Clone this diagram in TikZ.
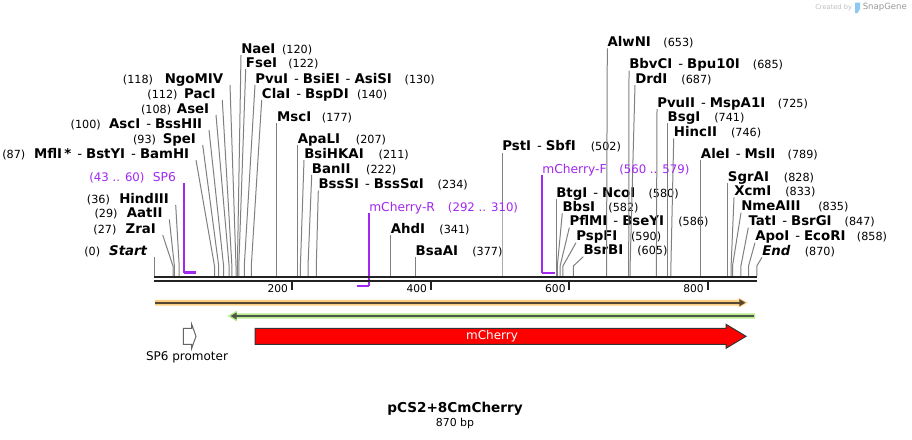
\documentclass[tikz,border=0pt]{standalone}
\usepackage{fontspec}
\setmainfont{DejaVu Sans}
\usetikzlibrary{arrows.meta}
\definecolor{primer}{RGB}{160,40,240}
\definecolor{siteln}{RGB}{128,128,128}
\definecolor{barblk}{RGB}{34,34,34}
\definecolor{orhalo}{RGB}{250,206,128}
\definecolor{orline}{RGB}{85,72,50}
\definecolor{grhalo}{RGB}{184,236,140}
\definecolor{grline}{RGB}{78,88,72}
\definecolor{outl}{RGB}{51,51,51}
\definecolor{logoblue}{RGB}{140,200,240}
\newdimen\px \px=0.75pt
\newcommand\nm[1]{\textbf{#1}}
\newcommand\ps[1]{{\fontsize{8.4}{10}\selectfont(#1)}}
\newcommand\g[1]{\hspace{#1\px}}
\newcommand\dsh{\hspace{6\px}-\hspace{4\px}}
\newcommand\rsite[5]{\coordinate (s#1) at (#2,276);\node[rlab] (#1) at (#3,#4) {#5};\draw[site] (s#1) -- ++(0,-10) -- (#1.south west);}
\newcommand\lsite[5]{\coordinate (s#1) at (#2,276);\node[llab] (#1) at (#3,#4) {#5};\draw[site] (s#1) -- ++(0,-10) -- ([xshift=4.9pt]#1.south east);}
\begin{document}
\begin{tikzpicture}[x=0.75pt,y=-0.75pt,
  lab/.style={inner sep=0pt, text depth=1.1pt, font=\fontsize{10}{12}\selectfont, text=black},
  rlab/.style={lab, anchor=south west},
  llab/.style={lab, anchor=south east, xshift=-4.9pt},
  site/.style={draw=siteln, line width=0.75pt},
  primv/.style={draw=primer, line width=1.2pt},
  primh/.style={draw=primer, line width=1.7pt},
  plab/.style={inner sep=0pt, text depth=1.1pt, font=\fontsize{8.8}{11}\selectfont, text=primer},
  ticklab/.style={inner sep=0pt, anchor=east, font=\fontsize{8}{10}\selectfont},
  featlab/.style={inner sep=0pt, font=\fontsize{9}{11}\selectfont}]
\fill[white] (0,0) rectangle (912,439);
\useasboundingbox (0,0) rectangle (912,439);

% watermark
\node[inner sep=0pt, anchor=west, text=black!25, font=\fontsize{5}{6}\selectfont] (wm1) at (815,7.5) {Created by};
\fill[logoblue] (855,2.5) -- (860,2.5) -- (860,9) -- (857.5,13) -- (855,13) -- cycle;
\node[inner sep=0pt, anchor=west, text=black!40, font=\fontsize{6.4}{8}\selectfont] (wm2) at (862.5,7.5) {SnapGene};

% left-side sites
\lsite{NgoMIV}{236.0}{230}{85}{\ps{118}\g{11.7}\nm{NgoMIV}}
\lsite{PacI}{231.9}{222.3}{100}{\ps{112}\g{6.7}\nm{PacI}}
\lsite{AseI}{229.1}{216}{115}{\ps{108}\g{5.7}\nm{AseI}}
\lsite{AscI}{223.6}{209}{130}{\ps{100}\g{8.3}\nm{AscI}\dsh\nm{BssHII}}
\lsite{SpeI}{218.7}{202.7}{145}{\ps{93}\g{6.7}\nm{SpeI}}
\lsite{MflI}{214.5}{196}{160}{\ps{87}\g{8.7}\nm{MflI\,*}\dsh\nm{BstYI}\dsh\nm{BamHI}}
\lsite{HindIII}{179.2}{175.7}{205}{\ps{36}\g{9.3}\nm{HindIII}}
\lsite{AatII}{174.4}{169.3}{219.3}{\ps{29}\g{9.3}\nm{AatII}}
\lsite{ZraI}{173.0}{162.7}{235}{\ps{27}\g{9.3}\nm{ZraI}}
\lsite{Start}{154.3}{154.3}{257.3}{\ps{0}\g{9}\textbf{\itshape Start}}

% right-side sites
\rsite{NaeI}{237.4}{241}{55}{\nm{NaeI}\g{6.7}\ps{120}}
\rsite{FseI}{238.8}{245.7}{69}{\nm{FseI}\g{11.3}\ps{122}}
\rsite{PvuI}{244.3}{255}{85}{\nm{PvuI}\dsh\nm{BsiEI}\dsh\nm{AsiSI}\g{12.7}\ps{130}}
\rsite{ClaI}{251.3}{261.7}{100}{\nm{ClaI}\dsh\nm{BspDI}\g{8.3}\ps{140}}
\rsite{MscI}{276.9}{276.9}{123.3}{\nm{MscI}\g{10.7}\ps{177}}
\rsite{ApaLI}{297.6}{297.6}{145}{\nm{ApaLI}\g{15.7}\ps{207}}
\rsite{BsiHKAI}{300.4}{304}{160}{\nm{BsiHKAI}\g{15}\ps{211}}
\rsite{BanII}{308.0}{311.7}{175}{\nm{BanII}\g{15.7}\ps{222}}
\rsite{BssSI}{316.3}{318.3}{190.7}{\nm{BssSI}\dsh\nm{BssSαI}\g{14}\ps{234}}
\rsite{AhdI}{390.5}{390.5}{235}{\nm{AhdI}\g{14.3}\ps{341}}
\rsite{BsaAI}{415.4}{415.4}{257.3}{\nm{BsaAI}\g{14.3}\ps{377}}
\rsite{PstI}{502.0}{502.0}{152.7}{\nm{PstI}\dsh\nm{SbfI}\g{15}\ps{502}}
\rsite{BtgI}{556.0}{556.0}{199}{\nm{BtgI}\dsh\nm{NcoI}\g{13.3}\ps{580}}
\rsite{BbsI}{557.3}{562.3}{213.3}{\nm{BbsI}\g{13.3}\ps{582}}
\rsite{PflMI}{560.1}{569.3}{227.7}{\nm{PflMI}\dsh\nm{BseYI}\g{14.3}\ps{586}}
\rsite{PspFI}{562.9}{576}{242.7}{\nm{PspFI}\g{13.7}\ps{590}}
\rsite{BsrBI}{573.3}{583.3}{256.7}{\nm{BsrBI}\g{14}\ps{605}}
\rsite{AlwNI}{606.5}{607.3}{48.3}{\nm{AlwNI}\g{12.5}\ps{653}}
\rsite{BbvCI}{628.7}{629}{70.7}{\nm{BbvCI}\dsh\nm{Bpu10I}\g{13}\ps{685}}
\rsite{DrdI}{630.1}{635}{85}{\nm{DrdI}\g{14}\ps{687}}
\rsite{PvuII}{656.4}{657}{109}{\nm{PvuII}\dsh\nm{MspA1I}\g{12.5}\ps{725}}
\rsite{BsgI}{667.4}{667.4}{123.3}{\nm{BsgI}\g{14}\ps{741}}
\rsite{HincII}{670.9}{673.7}{138.3}{\nm{HincII}\g{14}\ps{746}}
\rsite{AleI}{700.7}{700.7}{160}{\nm{AleI}\dsh\nm{MslI}\g{12.3}\ps{789}}
\rsite{SgrAI}{727.7}{727.7}{183.3}{\nm{SgrAI}\g{15}\ps{828}}
\rsite{XcmI}{731.1}{734}{197.3}{\nm{XcmI}\g{14}\ps{833}}
\rsite{NmeAIII}{732.5}{741}{212.7}{\nm{NmeAIII}\g{17.7}\ps{835}}
\rsite{TatI}{740.9}{748.3}{227.7}{\nm{TatI}\dsh\nm{BsrGI}\g{13}\ps{847}}
\rsite{ApoI}{748.5}{755}{242.7}{\nm{ApoI}\dsh\nm{EcoRI}\g{11.5}\ps{858}}
\rsite{End}{756.8}{762}{257.3}{\textbf{\itshape End}\g{14.3}\ps{870}}

% primers
\coordinate (sp6a) at (184.1,272.5);
\coordinate (sp6b) at (195.8,272.5);
\node[plab, anchor=south east, xshift=-6pt] (SP6) at (184.1,183) {(43 .. 60)\g{8.3}{\fontsize{9.2}{11}\selectfont SP6}};
\draw[primh] (sp6a) -- (sp6b);
\draw[primv] (sp6a) -- ([xshift=6pt]SP6.south east);

\coordinate (mra) at (356.5,285.7);
\coordinate (mrb) at (369.0,285.7);
\node[plab, anchor=south west] (mCR) at (369.0,213.3) {{\fontsize{9.2}{11}\selectfont mCherry-R}\g{13}(292 .. 310)};
\draw[primh] (mra) -- (mrb);
\draw[primv] (mrb) -- (mCR.south west);

\coordinate (mfa) at (542.1,272.7);
\coordinate (mfb) at (555.3,272.7);
\node[plab, anchor=south west] (mCF) at (542.1,175) {{\fontsize{9.2}{11}\selectfont mCherry-F}\g{12.7}(560 .. 579)};
\draw[primh] (mfa) -- (mfb);
\draw[primv] (mfa) -- (mCF.south west);

% sequence bar
\draw[barblk, line width=2pt] (154.3,277) -- (756.8,277);
\draw[barblk, line width=1.5pt] (154.3,281) -- (756.8,281);

% ticks
\foreach \t/\xx in {200/291.7,400/430.7,600/569.3,800/707.5}{
  \draw[barblk, line width=1.5pt] (\xx,282) -- (\xx,290);
  \node[ticklab] (t\t) at (\xx-3.5,289) {\t};
}

% orange feature (forward)
\fill[orhalo] (155,299.9) -- (738.5,299.9) -- (738.5,297.6) -- (747.5,302.7) -- (738.5,307.8) -- (738.5,305.5) -- (155,305.5) -- cycle;
\draw[orline, line width=1.5pt, -{Triangle[length=4.6pt,width=5pt]}] (155,302.7) -- (745.5,302.7);

% green feature (reverse)
\fill[grhalo] (755,313.3) -- (236.8,313.3) -- (236.8,310.6) -- (227.5,316) -- (236.8,321.4) -- (236.8,318.7) -- (755,318.7) -- cycle;
\draw[grline, line width=1.5pt, -{Triangle[length=4.6pt,width=5pt]}] (753.5,316) -- (230.5,316);

% SP6 promoter
\draw[draw=black!60, fill=white, line width=0.75pt] (183.3,328.3) -- (191.7,328.3) -- (191.7,324.3) -- (196,336.3) -- (191.7,348.3) -- (191.7,344.3) -- (183.3,344.3) -- cycle;
\node[featlab] (sp6p) at (187,357.7) {SP6 promoter};

% mCherry
\draw[draw=outl, fill=red, line width=0.75pt] (255,328.3) -- (726,328.3) -- (726,324.3) -- (746,336.3) -- (726,348.3) -- (726,344.3) -- (255,344.3) -- cycle;
\node[featlab, text=white] (mch) at (492,336.3) {mCherry};

% title
\node[inner sep=0pt, font=\fontsize{10.2}{12}\selectfont\bfseries] (title) at (455,408.5) {pCS2+8CmCherry};
\node[inner sep=0pt, font=\fontsize{8.2}{10}\selectfont] (len) at (455,423.5) {870 bp};
\end{tikzpicture}
\end{document}
